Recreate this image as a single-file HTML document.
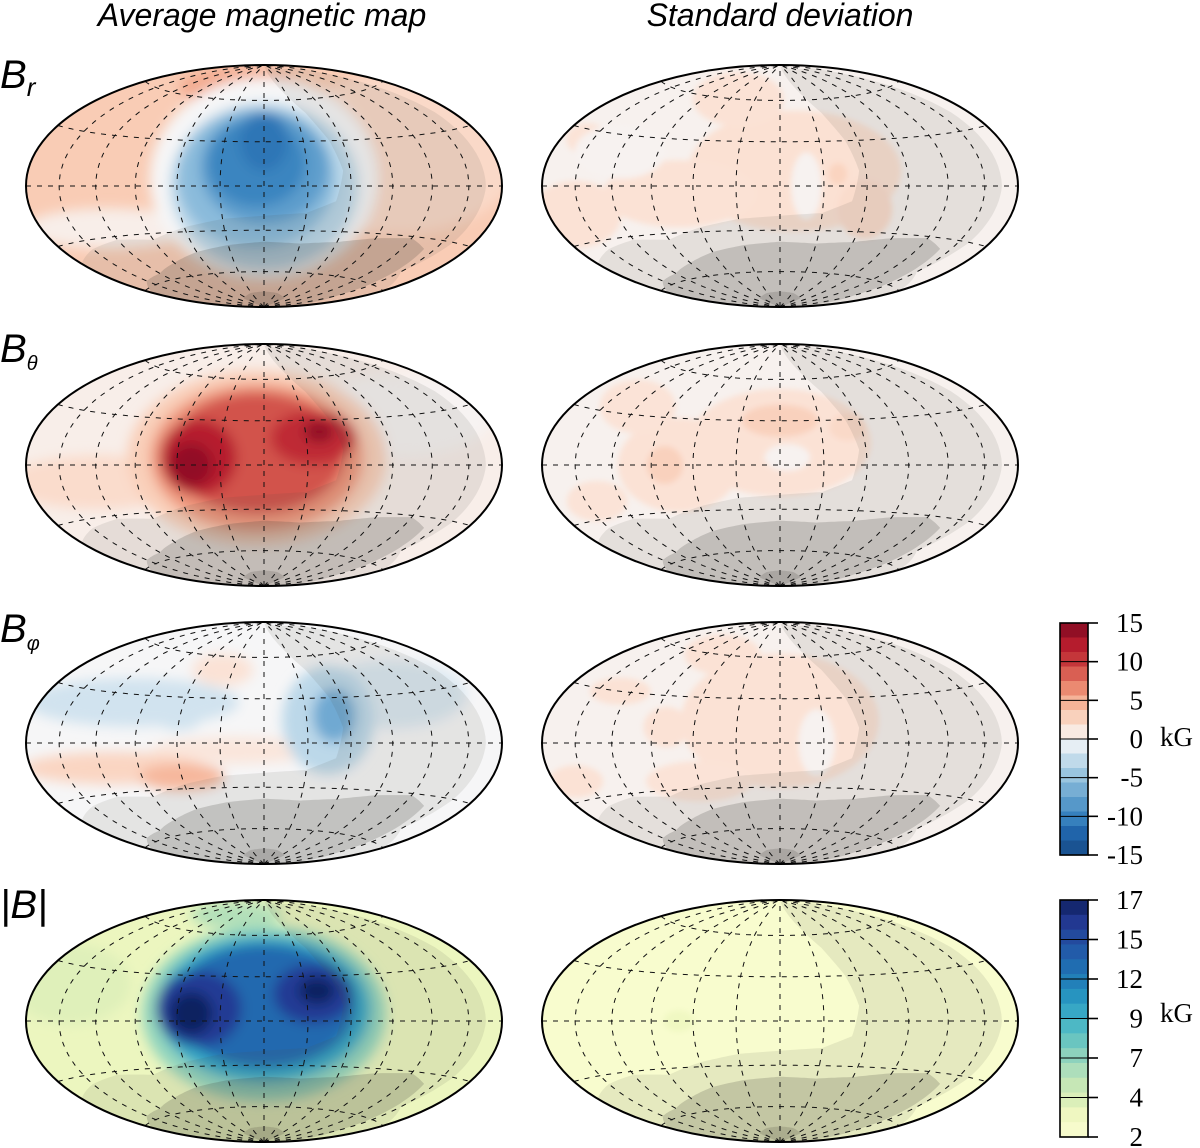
<!DOCTYPE html>
<html><head><meta charset="utf-8">
<style>
html,body{margin:0;padding:0;background:#fff;}
svg{display:block;}
</style></head>
<body>
<svg id="fig" width="1200" height="1148" viewBox="0 0 1200 1148" xmlns="http://www.w3.org/2000/svg">
<defs>
<filter id="blur" x="-50%" y="-50%" width="200%" height="200%"><feGaussianBlur stdDeviation="6"/></filter>
<filter id="blur2" x="-50%" y="-50%" width="200%" height="200%"><feGaussianBlur stdDeviation="3"/></filter>
</defs>
<text x="262" y="26" text-anchor="middle" font-family="Liberation Sans, sans-serif" font-style="italic" font-size="32">Average magnetic map</text>
<text x="780" y="26" text-anchor="middle" font-family="Liberation Sans, sans-serif" font-style="italic" font-size="32">Standard deviation</text>
<text x="0" y="88" font-family="Liberation Sans, sans-serif" font-style="italic" font-size="40">B<tspan font-size="26" dy="8">r</tspan></text>
<text x="0" y="362" font-family="Liberation Sans, sans-serif" font-style="italic" font-size="40">B<tspan font-size="20" dy="8">θ</tspan></text>
<text x="0" y="642" font-family="Liberation Sans, sans-serif" font-style="italic" font-size="40">B<tspan font-size="20" dy="8">φ</tspan></text>
<text x="0" y="918" font-family="Liberation Sans, sans-serif" font-style="italic" font-size="40">|B|</text>
<g id="maps"></g>
<g id="bars"></g>
</svg>
<script>
// ---- data ----
const rowCenters = [186, 465, 743, 1021];
const colCenters = [264, 780];
// blobs: [lon, lat, rlon, rlat, value]
const brAvgBase = 3.2;
const brAvgBlobs = [[-40,70,40,15,5],[100,20,80,60,2.2],[-120,-25,55,15,0.6],[0,5,75,75,0],[0,0,62,62,-3],[-5,5,52,52,-5.5],[0,12,42,42,-8],[-5,15,32,32,-10],[0,30,16,22,-11]];
const btAvgBase = 0.6;
const btAvgBlobs = [[-120,-10,60,20,2],[110,30,60,30,0.2],[-5,5,85,65,3],[-5,5,70,55,6],[-5,8,58,45,9],[-45,5,25,28,12],[35,18,28,20,11],[-50,0,14,16,14],[40,22,10,8,14]];
const bpAvgBase = 0;
const bpAvgBlobs = [[-100,25,70,18,-2],[100,30,50,25,-1.5],[-20,-5,55,10,1.2],[-110,-15,60,12,2.5],[-60,-22,28,10,4.5],[-40,50,20,12,1.5],[45,15,30,40,-3],[50,18,14,20,-7],[-60,15,14,8,-2]];
const bAvgBase = 3.6;
const bAvgBlobs = [[-60,75,30,10,6],[-150,20,40,30,4.2],[0,5,80,65,7],[0,8,70,55,10],[0,10,60,46,13],[-45,8,28,28,15.5],[35,18,26,22,15.5],[-50,5,14,16,17],[38,20,12,10,17]];
const brStdBase = 0.4;
const brStdBlobs = [[10,10,70,45,1.6],[-70,-5,50,25,1.5],[-155,-15,30,25,1.5],[-50,60,30,20,1.5],[-155,25,14,12,1.4],[60,-15,18,22,2],[40,8,6,8,2.6],[18,0,10,25,0.3],[-120,20,30,20,0.3]];
const btStdBase = 0.4;
const btStdBlobs = [[0,15,60,40,1.5],[0,30,25,12,2.8],[-70,0,40,35,1.5],[-80,0,12,14,2.8],[-120,35,25,20,1.4],[-140,-20,20,15,1.4],[50,25,12,10,2.2],[5,5,15,10,0.3]];
const bpStdBase = 0.4;
const bpStdBlobs = [[0,15,65,50,1.5],[-70,60,25,15,1.5],[-130,30,20,10,1.5],[-80,10,15,15,1.5],[-60,-25,35,15,1.4],[-160,-20,18,12,1.5],[25,0,12,25,0.3]];
const bStdBase = 2.3;
const bStdBlobs = [[-70,0,10,8,3.3]];
// colorbar ticks
const divTicks = [15, 10, 5, 0, -5, -10, -15];
const absTicks = [17, 15, 12, 9, 7, 4, 2];
const divStops = [[-15,'#174a86'],[-12,'#2166ac'],[-10,'#3a85c0'],[-7,'#6fa9d2'],[-4,'#a7cde3'],[-1.5,'#dce9f2'],[0,'#f6f6f7'],[1.5,'#fbe2d5'],[4,'#f8c2a6'],[7,'#e98168'],[10,'#c73a3c'],[12.5,'#b2182b'],[15,'#7d0a22']];
const absStops = [[2,'#fbfdd2'],[3.5,'#eef7c0'],[5,'#cde9b4'],[6.5,'#a6dcbc'],[8,'#6dc6bf'],[9.5,'#3fb1c7'],[11,'#2592c0'],[12.5,'#1f72b4'],[14,'#2356a6'],[15.5,'#233a94'],[17,'#0f2060']];
// shadow polygons (lon, lat)
const shadeA = [[-180,-40],[-150,-35],[-120,-32],[-90,-34],[-60,-27],[-30,-22],[0,-20],[30,-18],[50,-10],[55,10],[50,30],[40,50],[20,75],[8,90],[150,82],[163,40],[165,0],[160,-30],[150,-50],[180,-60],[180,-90],[-180,-90]];
const shadeB = [[-180,-62],[-150,-57],[-120,-55],[-90,-50],[-60,-44],[-30,-40],[0,-38],[30,-39],[60,-37],[90,-33],[120,-31],[140,-36],[145,-55],[150,-70],[180,-90],[-180,-90]];
const shadeC = [[-70,-90],[-70,-81],[-30,-77],[0,-76],[30,-77],[70,-81],[70,-90]];

const RX = 238, RY = 121;
const NS = 'http://www.w3.org/2000/svg';
function mk(t, a){const e=document.createElementNS(NS,t);for(const k in a)e.setAttribute(k,a[k]);return e;}
function hex(c){return [parseInt(c.slice(1,3),16),parseInt(c.slice(3,5),16),parseInt(c.slice(5,7),16)];}
function cmap(stops, v){
  if(v<=stops[0][0])return stops[0][1];
  for(let i=1;i<stops.length;i++){if(v<=stops[i][0]){const t=(v-stops[i-1][0])/(stops[i][0]-stops[i-1][0]);const a=hex(stops[i-1][1]),b=hex(stops[i][1]);return 'rgb('+a.map((x,j)=>Math.round(x+(b[j]-x)*t)).join(',')+')';}}
  return stops[stops.length-1][1];
}
function proj(lon,lat,cx,cy){
  const l=lon*Math.PI/180, p=lat*Math.PI/180;
  const d=Math.sqrt(1+Math.cos(p)*Math.cos(l/2));
  return [cx+RX*Math.cos(p)*Math.sin(l/2)/d, cy-RY*Math.sin(p)/d];
}
function polyPts(list,cx,cy){
  const out=[];
  for(let i=0;i<list.length;i++){
    const a=list[i],b=list[(i+1)%list.length];
    for(let k=0;k<12;k++){const t=k/12;out.push(proj(a[0]+(b[0]-a[0])*t,a[1]+(b[1]-a[1])*t,cx,cy));}
  }
  return out.map(p=>p[0].toFixed(1)+','+p[1].toFixed(1)).join(' ');
}
const maps=document.getElementById('maps');
const panels=[
 ['br-average',0,0,brAvgBase,brAvgBlobs,divStops],['br-std',0,1,brStdBase,brStdBlobs,divStops],
 ['btheta-average',1,0,btAvgBase,btAvgBlobs,divStops],['btheta-std',1,1,btStdBase,btStdBlobs,divStops],
 ['bphi-average',2,0,bpAvgBase,bpAvgBlobs,divStops],['bphi-std',2,1,bpStdBase,bpStdBlobs,divStops],
 ['babs-average',3,0,bAvgBase,bAvgBlobs,absStops],['babs-std',3,1,bStdBase,bStdBlobs,absStops]];
panels.forEach((P,idx)=>{
  const [name,r,c,base,blobs,stops]=P;
  const cx=colCenters[c], cy=rowCenters[r];
  const g=mk('g',{});
  
  
  const cp=mk('clipPath',{id:'clip'+idx});
  cp.appendChild(mk('ellipse',{cx:cx,cy:cy,rx:RX,ry:RY}));
  g.appendChild(cp);
  const inner=mk('g',{'clip-path':'url(#clip'+idx+')'});
  inner.appendChild(mk('ellipse',{cx:cx,cy:cy,rx:RX+2,ry:RY+2,fill:cmap(stops,base)}));
  const bg=mk('g',{filter:c===0?'url(#blur)':'url(#blur2)'});
  blobs.forEach(b=>{
    const [x,y]=proj(b[0],b[1],cx,cy);
    const e=mk('ellipse',{cx:x,cy:y,rx:b[2]/180*RX*1.15,ry:b[3]/90*RY,fill:cmap(stops,b[4])});
    
    
    bg.appendChild(e);
  });
  inner.appendChild(bg);
  [[shadeA,'rgba(80,80,70,0.11)'],[shadeB,'rgba(60,60,55,0.2)'],[shadeC,'rgba(50,45,40,0.16)']].forEach(s=>{
    const pg=mk('polygon',{points:polyPts(s[0],cx,cy),fill:s[1]});
    
    
    inner.appendChild(pg);
  });
  // grid
  const grid=mk('g',{fill:'none',stroke:'#111','stroke-width':1,'stroke-dasharray':'5,6'});
  for(let lo=-150;lo<=150;lo+=30){
    let d='';for(let la=-90;la<=90;la+=3){const p=proj(lo,la,cx,cy);d+=(la===-90?'M':'L')+p[0].toFixed(1)+','+p[1].toFixed(1);}
    grid.appendChild(mk('path',{d:d}));
  }
  for(let la=-60;la<=60;la+=30){
    let d='';for(let lo=-180;lo<=180;lo+=4){const p=proj(lo,la,cx,cy);d+=(lo===-180?'M':'L')+p[0].toFixed(1)+','+p[1].toFixed(1);}
    grid.appendChild(mk('path',{d:d}));
  }
  inner.appendChild(grid);
  g.appendChild(inner);
  g.appendChild(mk('ellipse',{cx:cx,cy:cy,rx:RX,ry:RY,fill:'none',stroke:'#000','stroke-width':2}));
  maps.appendChild(g);
});
// colorbars
const bars=document.getElementById('bars');
function colorbar(name,y0,y1,ticks,stops,vmin,vmax,kgY){
  const g=mk('g',{});
  
  
  const n=16,h=(y1-y0)/n;
  for(let i=0;i<n;i++){
    const v=vmax-(i+0.5)*(vmax-vmin)/n;
    g.appendChild(mk('rect',{x:1060,y:(y0+i*h).toFixed(2),width:28,height:(h+0.6).toFixed(2),fill:cmap(stops,v)}));
  }
  g.appendChild(mk('rect',{x:1060,y:y0,width:28,height:y1-y0,fill:'none',stroke:'#000','stroke-width':1.6}));
  ticks.forEach((t,i)=>{
    const y=y0+i*(y1-y0)/(ticks.length-1);
    g.appendChild(mk('line',{x1:1088,x2:1098,y1:y,y2:y,stroke:'#000','stroke-width':1.6}));
    g.appendChild(mk('line',{x1:1060,x2:1088,y1:y,y2:y,stroke:'#000','stroke-width':1}));
    const tx=mk('text',{x:1143,y:y+9,'text-anchor':'end','font-family':'Liberation Serif, serif','font-size':27});
    
    
    tx.textContent=String(t);
    g.appendChild(tx);
  });
  const kg=mk('text',{x:1160,y:kgY,'font-family':'Liberation Serif, serif','font-size':27});
  
  
  kg.textContent='kG';
  g.appendChild(kg);
  bars.appendChild(g);
}
colorbar('colorbar-diverging',623,855,divTicks,divStops,-15,15,746);
colorbar('colorbar-magnitude',900,1137,absTicks,absStops,2,17,1022);
</script>
</body></html>
